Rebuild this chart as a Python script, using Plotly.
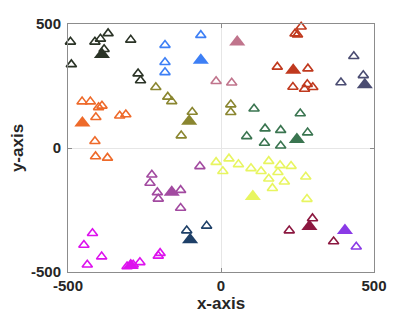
import plotly.graph_objects as go

# cluster member points (open triangles)
dark_x = [-492, -412, -394, -369, -295, -382, -489, -271, -263]
dark_y = [428, 428, 440, 462, 436, 398, 337, 300, 272]
blue_x = [-183, -183, -183, -66]
blue_y = [415, 346, 305, 455]
pink_x = [-16, 35]
pink_y = [269, 263]
orange_x = [-454, -427, -400, -389, -409, -331, -311, -412, -410, -371]
orange_y = [187, 187, 164, 170, 124, 130, 135, 27, -34, -40]
olive_x = [-213, -174, -161, -94, -130, 32, 32]
olive_y = [245, 206, 188, 145, 50, 175, 144]
red_x = [298, 262, 242, 250, 184, 284, 235, 282, 273, 300]
red_y = [502, 489, 461, 457, 327, 320, 246, 257, 238, 245]
slate_x = [434, 465, 392]
slate_y = [370, 293, 264]
green_x = [108, 259, 144, 195, 283, 84, 142, 195]
green_y = [158, 139, 78, 72, 62, 47, 20, 9]
yellow_x = [-16, 26, 6, 57, 98, 131, 156, 193, 186, 229, 156, 207, 168, 277, 281]
yellow_y = [-57, -43, -94, -66, -82, -94, -53, -70, -98, -73, -124, -136, -162, -116, -206]
purple_x = [-226, -232, -208, -205, -132, -132, -69]
purple_y = [-108, -141, -179, -205, -170, -242, -74]
navy_x = [-112, -47]
navy_y = [-333, -314]
magenta_x = [-420, -448, -390, -437, -205, -199, -265, -307, -287]
magenta_y = [-344, -391, -438, -471, -435, -424, -461, -478, -471]
maroon_x = [299, 223, 368]
maroon_y = [-284, -333, -377]
violet_x = [442]
violet_y = [-398]

# cluster centres (filled triangles)
center_names = ["dark", "blue", "pink", "orange", "olive", "red", "slate", "green",
                "yellow", "purple", "navy", "magenta", "maroon", "violet"]
center_x = [-389, -66, 53, -453, -104, 236, 470, 248, 104, -161, -101, -295, 289, 405]
center_y = [377, 354, 427, 101, 108, 314, 255, 34, -196, -178, -370, -474, -317, -333]
colors = ["#2a3326", "#3d7ff5", "#c0748c", "#ee6a2a", "#8a8630", "#c0391e", "#4a4c72",
          "#3a7550", "#e8f560", "#a24aa0", "#1e4068", "#dd11ee", "#8c1840", "#8a3ae6"]

members = [(dark_x, dark_y), (blue_x, blue_y), (pink_x, pink_y), (orange_x, orange_y),
           (olive_x, olive_y), (red_x, red_y), (slate_x, slate_y), (green_x, green_y),
           (yellow_x, yellow_y), (purple_x, purple_y), (navy_x, navy_y),
           (magenta_x, magenta_y), (maroon_x, maroon_y), (violet_x, violet_y)]

fig = go.Figure()
for i, (mx, my) in enumerate(members):
    fig.add_trace(go.Scatter(
        x=mx, y=my, mode="markers", name=center_names[i], showlegend=False,
        cliponaxis=False,
        marker=dict(symbol="triangle-up-open", size=9, color=colors[i],
                    line=dict(width=1.6, color=colors[i])),
        hoverinfo="skip"))
for i in range(len(center_x)):
    fig.add_trace(go.Scatter(
        x=[center_x[i]], y=[center_y[i]], mode="markers", showlegend=False,
        cliponaxis=False,
        marker=dict(symbol="triangle-up", size=14, color=colors[i],
                    line=dict(width=0)),
        hoverinfo="skip"))

axis_common = dict(
    range=[-500, 500], tickvals=[-500, 0, 500], ticktext=["-500", "0", "500"],
    showgrid=False, zeroline=True, zerolinecolor="#e6e6e6", zerolinewidth=1,
    showline=True, linecolor="#8c8c8c", linewidth=1, mirror="ticks",
    ticks="inside", ticklen=4, tickcolor="#8c8c8c",
    tickfont=dict(family="Liberation Sans, Arial, sans-serif", size=15, color="#262626",
                  weight="bold"),
)

fig.update_xaxes(**axis_common,
                 title=dict(text="x-axis", standoff=4,
                            font=dict(family="Liberation Sans, Arial, sans-serif", size=17,
                                      color="#262626", weight="bold")))
fig.update_yaxes(**axis_common, ticklabelstandoff=3,
                 title=dict(text="y-axis", standoff=15,
                            font=dict(family="Liberation Sans, Arial, sans-serif", size=17,
                                      color="#262626", weight="bold")))

fig.update_layout(
    width=415, height=318,
    margin=dict(l=60, r=49, t=16, b=54, autoexpand=False),
    paper_bgcolor="white", plot_bgcolor="white",
)

fig.write_html("out.html")
